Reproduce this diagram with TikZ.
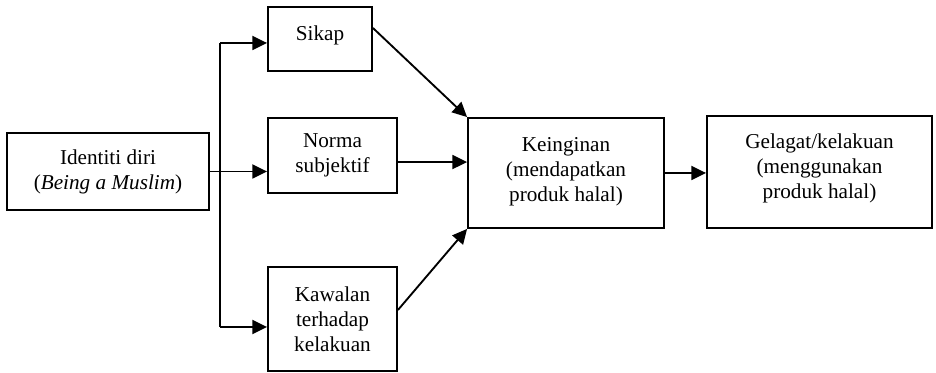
\documentclass[tikz,border=0pt]{standalone}
\usepackage{fontspec}
\setmainfont{Liberation Serif}
\usetikzlibrary{arrows.meta}
\tikzset{
	kotak/.style={draw, line width=1.4pt, align=center, inner sep=0pt, font=\fontsize{15.9}{18.8}\selectfont},
	garis/.style={line width=1.4pt},
	panah/.style={garis, -{Triangle[length=11pt, width=10.5pt]}}
}

\begin{document}
\begin{tikzpicture}[x=0.75pt, y=-0.75pt]
		%%%%% START %%%%%
		\useasboundingbox (0, 0) rectangle (936, 373);
		
		\node[kotak, minimum width=151.5pt, minimum height=57.75pt] (diri) at (108, 171.5) {Identiti diri\\(\textit{Being a Muslim})};
		
		\node[kotak, minimum width=78pt, minimum height=48pt, text depth=9.5pt] (sikap) at (320, 39) {Sikap};
		\node[kotak, minimum width=96.75pt, minimum height=56.25pt] (norma) at (332.5, 155.5) {Norma\\subjektif};
		\node[kotak, minimum width=96.75pt, minimum height=78pt] (kawal) at (332.5, 319) {Kawalan\\terhadap\\kelakuan};
		
		\node[kotak, minimum width=147pt, minimum height=82.5pt, text depth=5.4pt] (ingin) at (566, 173) {Keinginan\\(mendapatkan\\produk halal)};
		\node[kotak, minimum width=168.75pt, minimum height=84pt, text depth=9.2pt] (laku) at (819.5, 172) {Gelagat/kelakuan\\(menggunakan\\produk halal)};
		
		% cabang dari identiti diri
		\coordinate (pecah) at (220, 171.5);
		\coordinate (atas) at (220, 43);
		\coordinate (bawah) at (220, 327);
		\draw[garis] (diri.east) -- (pecah);
		\draw[garis] (atas) -- (bawah);
		\draw[panah] (atas) -- (atas -| sikap.west);
		\draw[panah] (pecah) -- (pecah -| norma.west);
		\draw[panah] (bawah) -- (bawah -| kawal.west);
		
		% ke keinginan
		\draw[panah] ([yshift=8.25pt]sikap.east) -- (ingin.north west);
		\draw[panah] ([yshift=-4.9pt]norma.east) -- ([yshift=-4.9pt]norma.east -| ingin.west);
		\draw[panah] ([yshift=6.75pt]kawal.east) -- (ingin.south west);
		
		\draw[panah] (ingin.east) -- (ingin.east -| laku.west);
		%%%%% END %%%%%
	\end{tikzpicture}
\end{document}
